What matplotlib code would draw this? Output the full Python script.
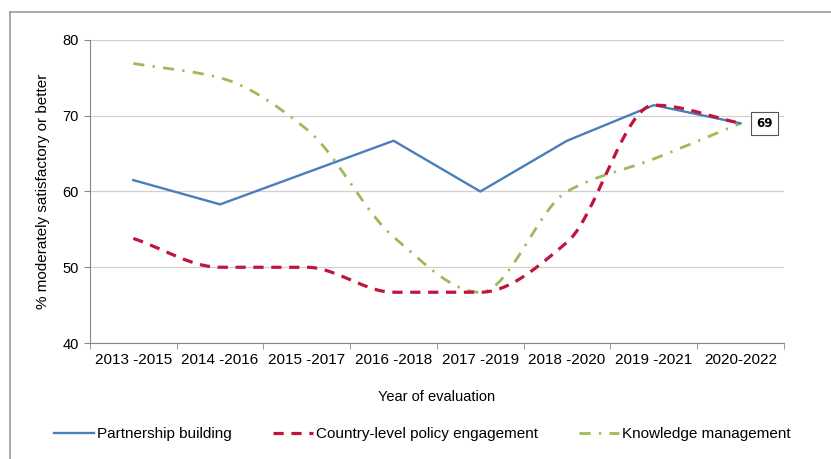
"""Share of evaluations rated moderately satisfactory or better, by evaluation period."""

import matplotlib

matplotlib.use("Agg")
import matplotlib.pyplot as plt  # noqa: E402
import numpy as np  # noqa: E402

periods = ["2013 -2015", "2014 -2016", "2015 -2017", "2016 -2018",
           "2017 -2019", "2018 -2020", "2019 -2021", "2020-2022"]
partnership = [61.5, 58.3, 62.5, 66.7, 60.0, 66.7, 71.4, 69.0]
policy = [53.8, 50.0, 50.0, 46.7, 46.7, 53.3, 71.4, 69.0]
knowledge = [76.9, 75.0, 68.2, 54.0, 46.7, 60.0, 64.3, 69.0]
series_names = ["Partnership building", "Country-level policy engagement",
                "Knowledge management"]


def smooth(xs, ys, n=40):
    # monotone cubic (Fritsch-Carlson) curve through the points, no overshoot
    xs = np.asarray(xs, float)
    ys = np.asarray(ys, float)
    h = np.diff(xs)
    d = np.diff(ys) / h
    m = np.zeros_like(ys)
    m[0], m[-1] = d[0], d[-1]
    for i in range(1, len(ys) - 1):
        if d[i - 1] * d[i] > 0:
            w1 = 2 * h[i] + h[i - 1]
            w2 = h[i] + 2 * h[i - 1]
            m[i] = (w1 + w2) / (w1 / d[i - 1] + w2 / d[i])
    out_x, out_y = [], []
    for i in range(len(xs) - 1):
        t = np.linspace(0, 1, n, endpoint=(i == len(xs) - 2))
        h00 = 2 * t ** 3 - 3 * t ** 2 + 1
        h10 = t ** 3 - 2 * t ** 2 + t
        h01 = -2 * t ** 3 + 3 * t ** 2
        h11 = t ** 3 - t ** 2
        out_x.extend(xs[i] + t * h[i])
        out_y.extend(h00 * ys[i] + h10 * h[i] * m[i] + h01 * ys[i + 1] + h11 * h[i] * m[i + 1])
    return np.array(out_x), np.array(out_y)


def main() -> None:
    plt.rcParams["font.family"] = ["Liberation Sans", "DejaVu Sans"]
    fig = plt.figure(figsize=(8.31, 4.59), dpi=100)
    ax = fig.add_axes([0.1083, 0.2527, 0.835, 0.6602])

    x = np.arange(len(periods))
    ax.plot(x, partnership, color="#4A7EBB", lw=1.7, solid_joinstyle="miter",
            label=series_names[0], zorder=3)
    sx, sy = smooth(x, policy)
    ax.plot(sx, sy, color="#C0143C", lw=2.3, dashes=(3.2, 2.4),
            label=series_names[1], zorder=4)
    sx, sy = smooth(x, knowledge)
    ax.plot(sx, sy, color="#9BBB59", lw=2.0, dashes=(4.0, 3.0, 0.8, 3.0),
            label=series_names[2], zorder=2)

    ax.annotate(f"{knowledge[-1]:.0f}", (x[-1], knowledge[-1]),
                xytext=(17, 0), textcoords="offset points",
                ha="center", va="center", fontsize=8.5, fontweight="bold",
                family="DejaVu Sans",
                bbox=dict(boxstyle="square,pad=0.45", fc="white", ec="#555555", lw=0.8),
                zorder=5)

    ax.set_xlim(-0.5, len(periods) - 0.5)
    ax.set_ylim(40, 80)
    ax.set_yticks([40, 50, 60, 70, 80])
    ax.set_xticks(x)
    ax.set_xticklabels(periods, fontsize=11)
    ax.set_xticks(np.arange(len(periods) + 1) - 0.5, minor=True)
    ax.tick_params(axis="x", which="major", length=0, pad=7)
    ax.tick_params(axis="x", which="minor", length=4, color="#888888", direction="out")
    ax.tick_params(axis="y", length=4, color="#888888", labelsize=10.5, pad=4)
    ax.grid(axis="y", color="#D0D0D0", lw=0.9)
    ax.set_axisbelow(True)
    for side in ("top", "right"):
        ax.spines[side].set_visible(False)
    for side in ("left", "bottom"):
        ax.spines[side].set_color("#888888")
    ax.set_xlabel("Year of evaluation", fontsize=10.5, labelpad=17)
    ax.set_ylabel("% moderately satisfactory or better", fontsize=11, labelpad=9)

    fig.legend(loc="center", bbox_to_anchor=(0.508, 0.054), ncol=3, frameon=False,
               fontsize=11, handlelength=2.6, handletextpad=0.2, columnspacing=2.7)

    # outer frame (top and left edges visible in the crop)
    fig.add_artist(plt.Line2D([0.012, 1.0], [0.974, 0.974], transform=fig.transFigure,
                              color="#999999", lw=1.2))
    fig.add_artist(plt.Line2D([0.012, 0.012], [0.0, 0.974], transform=fig.transFigure,
                              color="#999999", lw=1.2))

    fig.savefig("out.png", dpi=100)


if __name__ == "__main__":
    main()
